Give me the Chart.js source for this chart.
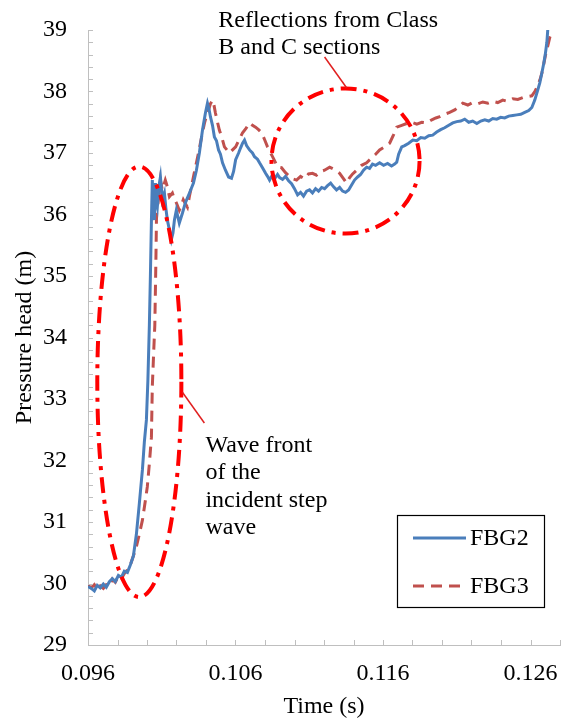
<!DOCTYPE html>
<html>
<head>
<meta charset="utf-8">
<script src="https://cdn.jsdelivr.net/npm/chart.js@4/dist/chart.umd.min.js"></script>
<style>
  html, body { margin: 0; padding: 0; background: #ffffff; }
  #wrap { width: 561px; height: 719px; }
</style>
</head>
<body>
<div id="wrap"><canvas id="c" width="561" height="719"></canvas></div>
<script>
// ---------- DATA ----------
const seriesNames = ['FBG2', 'FBG3'];

const fbg2Time = [
  0.0960, 0.09622, 0.09643, 0.09663, 0.09683, 0.09704, 0.09724, 0.09745, 0.09765, 0.09785,
  0.09806, 0.09826, 0.09846, 0.09867, 0.09887, 0.09908, 0.09928, 0.09948, 0.09969, 0.09982,
  0.09996, 0.10006, 0.10016, 0.10023, 0.1003, 0.10036, 0.10043, 0.1005, 0.10057, 0.10063,
  0.1007, 0.1008, 0.10091, 0.10104, 0.10118, 0.10128, 0.10138, 0.10152, 0.10165, 0.10176,
  0.10186, 0.10199, 0.10219, 0.1024, 0.1026, 0.10288, 0.10315, 0.10335, 0.10355, 0.10376,
  0.10396, 0.1041, 0.1042, 0.1043, 0.10444, 0.10457, 0.10471, 0.10485, 0.10498, 0.10512,
  0.10532, 0.10553, 0.10573, 0.10587, 0.10601, 0.10621, 0.10634, 0.10648, 0.10661, 0.10675,
  0.10695, 0.10715, 0.10729, 0.10749, 0.10763, 0.10783, 0.10804, 0.10817, 0.10831, 0.10845,
  0.10865, 0.10885, 0.10899, 0.10919, 0.10939, 0.1096, 0.1098, 0.1100, 0.11021, 0.11041,
  0.11061, 0.11082, 0.11102, 0.11122, 0.11143, 0.11163, 0.11184, 0.11204, 0.11224, 0.11245,
  0.11265, 0.11285, 0.11306, 0.11326, 0.11346, 0.11367, 0.11387, 0.11407, 0.11428, 0.11448,
  0.11468, 0.11489, 0.11509, 0.11529, 0.1155, 0.11577, 0.11604, 0.11631, 0.11658, 0.11679,
  0.11693, 0.11706, 0.11727, 0.11747, 0.11774, 0.11802, 0.11829, 0.11856, 0.11883, 0.1191,
  0.11937, 0.11964, 0.11991, 0.12018, 0.12046, 0.12073, 0.121, 0.12127, 0.12154, 0.12181,
  0.12208, 0.12236, 0.12263, 0.1229, 0.12317, 0.12344, 0.12371, 0.12398, 0.12425, 0.12452,
  0.1248, 0.12507, 0.12534, 0.12561, 0.12588, 0.12609, 0.12629, 0.1265, 0.12663, 0.12677,
  0.1269, 0.127, 0.12711, 0.12717
];
const fbg2Head = [
  29.95, 29.92, 29.88, 29.97, 29.93, 29.99, 29.94, 30.03, 30.08, 30.03,
  30.13, 30.10, 30.20, 30.18, 30.30, 30.45, 30.80, 31.30, 31.85, 32.30,
  32.66, 33.30, 34.20, 35.00, 35.90, 36.56, 36.10, 35.91, 36.51, 36.20,
  36.12, 36.45, 36.61, 36.24, 36.35, 36.10, 35.91, 35.75, 35.59, 35.70,
  35.91, 36.07, 35.86, 36.02, 36.19, 36.35, 36.51, 36.72, 37.00, 37.37,
  37.65, 37.81, 37.72, 37.59, 37.45, 37.26, 37.20, 37.05, 36.98, 36.84,
  36.72, 36.61, 36.59, 36.70, 36.89, 37.00, 37.08, 37.16, 37.21, 37.12,
  37.05, 37.00, 36.94, 36.90, 36.84, 36.76, 36.67, 36.62, 36.56, 36.62,
  36.58, 36.65, 36.60, 36.57, 36.62, 36.55, 36.50, 36.42, 36.32, 36.36,
  36.30, 36.38, 36.40, 36.35, 36.42, 36.38, 36.44, 36.42, 36.47, 36.51,
  36.45, 36.40, 36.44, 36.38, 36.36, 36.40, 36.48, 36.56, 36.61, 36.65,
  36.72, 36.77, 36.75, 36.82, 36.80, 36.84, 36.80, 36.83, 36.79, 36.82,
  36.85, 36.98, 37.10, 37.12, 37.16, 37.21, 37.20, 37.25, 37.24, 37.28,
  37.29, 37.34, 37.38, 37.41, 37.45, 37.49, 37.51, 37.52, 37.55, 37.50,
  37.52, 37.48, 37.52, 37.54, 37.52, 37.56, 37.55, 37.58, 37.57, 37.60,
  37.61, 37.62, 37.63, 37.66, 37.69, 37.74, 37.86, 38.03, 38.14, 38.30,
  38.46, 38.60, 38.80, 39.00
];

const fbg3Time = [
  0.0960, 0.09622, 0.09643, 0.09663, 0.09683, 0.09704, 0.09724, 0.09745, 0.09765, 0.09785,
  0.09806, 0.09826, 0.09846, 0.09867, 0.09887, 0.09908, 0.09928, 0.09948, 0.09969, 0.09989,
  0.10002, 0.10016, 0.1003, 0.10036, 0.10046, 0.10053, 0.1006, 0.10064, 0.1007, 0.1008,
  0.10091, 0.10104, 0.10124, 0.10138, 0.10152, 0.10172, 0.10186, 0.10199, 0.10219, 0.10233,
  0.10246, 0.1026, 0.10274, 0.10288, 0.10301, 0.10318, 0.10335, 0.10349, 0.10362, 0.10376,
  0.1039, 0.10403, 0.10417, 0.1043, 0.10444, 0.10454, 0.10464, 0.10478, 0.10491, 0.10508,
  0.10525, 0.10542, 0.10559, 0.1058, 0.10601, 0.10621, 0.10648, 0.10671, 0.10695, 0.10715,
  0.10736, 0.10756, 0.10777, 0.10797, 0.10817, 0.10834, 0.10851, 0.10868, 0.10885, 0.10912,
  0.10939, 0.10966, 0.10987, 0.11014, 0.11041, 0.11068, 0.11095, 0.11122, 0.11149, 0.11177,
  0.11204, 0.11238, 0.11272, 0.11306, 0.11333, 0.11353, 0.11374, 0.11394, 0.11421, 0.11455,
  0.11489, 0.11523, 0.1155, 0.11577, 0.11611, 0.11645, 0.11672, 0.11693, 0.11727, 0.11761,
  0.11795, 0.11829, 0.11863, 0.11897, 0.11931, 0.11958, 0.11985, 0.12018, 0.12052, 0.12086,
  0.12114, 0.12141, 0.12175, 0.12208, 0.12243, 0.12277, 0.12311, 0.12344, 0.12378, 0.12412,
  0.12446, 0.1248, 0.12514, 0.12548, 0.12582, 0.12609, 0.1263, 0.1265, 0.12664, 0.12677,
  0.1269, 0.12704, 0.12718, 0.12732, 0.12746
];
const fbg3Head = [
  29.97, 29.93, 29.98, 29.90, 29.96, 29.92, 29.98, 29.95, 30.07, 30.02,
  30.12, 30.08, 30.16, 30.22, 30.30, 30.45, 30.60, 30.80, 31.03, 31.35,
  31.57, 31.95, 32.38, 33.20, 33.80, 34.20, 35.20, 35.90, 36.40, 36.30,
  36.56, 36.40, 36.56, 36.45, 36.29, 36.35, 36.25, 36.19, 36.07, 36.15,
  36.24, 36.18, 36.12, 36.30, 36.45, 36.65, 36.84, 37.00, 37.16, 37.33,
  37.49, 37.60, 37.70, 37.80, 37.86, 37.78, 37.65, 37.50, 37.37, 37.25,
  37.10, 37.05, 37.00, 37.05, 37.10, 37.20, 37.33, 37.40, 37.49, 37.45,
  37.42, 37.38, 37.33, 37.22, 37.10, 37.02, 36.94, 36.86, 36.77, 36.76,
  36.68, 36.62, 36.58, 36.56, 36.62, 36.58, 36.66, 36.67, 36.64, 36.70,
  36.72, 36.77, 36.73, 36.67, 36.58, 36.51, 36.60, 36.66, 36.72, 36.80,
  36.84, 36.92, 36.98, 37.05, 37.10, 37.16, 37.30, 37.42, 37.45, 37.48,
  37.50, 37.47, 37.50, 37.49, 37.54, 37.57, 37.59, 37.63, 37.66, 37.70,
  37.75, 37.81, 37.78, 37.82, 37.80, 37.83, 37.81, 37.84, 37.82, 37.86,
  37.84, 37.88, 37.87, 37.90, 37.92, 37.93, 38.00, 38.10, 38.19, 38.30,
  38.45, 38.62, 38.75, 38.89, 38.97
];

const xTickLabels = ['0.096', '0.106', '0.116', '0.126'];
const yTickLabels = ['29', '30', '31', '32', '33', '34', '35', '36', '37', '38', '39'];
const xAxisTitle = 'Time (s)';
const yAxisTitle = 'Pressure head (m)';

const noteReflection = ['Reflections from Class', 'B and C sections'];
const noteWave = ['Wave front', 'of the', 'incident step', 'wave'];

// ---------- STYLE ----------
const SERIF = "'Liberation Serif', 'Times New Roman', serif";
const AXIS_GREY = '#bfbfbf';
const RED = '#ff0000';

function pts(xs, ys) { return xs.map((x, i) => ({ x: x, y: ys[i] })); }

// Annotation shapes, in data units of the chart's own axes
const annotationShapes = {
  reflectionEllipse: { cx: 0.11346, cy: 36.87, rx: 0.00502, ry: 1.18 },
  waveEllipse: { cx: 0.09948, cy: 33.28, rx: 0.00285, ry: 3.50 },
  reflectionLeader: [[0.11204, 38.56], [0.11353, 38.06]],
  waveLeader: [[0.10240, 33.11], [0.10389, 32.61]],
  reflectionText: { x: 0.10483, y: 39.05 },
  waveText: { x: 0.10396, y: 32.14 }
};

const inwardTicks = {
  id: 'inwardTicks',
  afterDraw(chart) {
    const ctx = chart.ctx;
    const xs = chart.scales.x, ys = chart.scales.y;
    const a = chart.chartArea;
    ctx.save();
    ctx.strokeStyle = AXIS_GREY;
    ctx.lineWidth = 1;
    ctx.beginPath();
    xs.ticks.forEach(t => {
      const px = Math.round(xs.getPixelForValue(t.value)) + 0.5;
      ctx.moveTo(px, a.bottom);
      ctx.lineTo(px, a.bottom - 5);
    });
    ys.ticks.forEach(t => {
      const py = Math.round(ys.getPixelForValue(t.value)) + 0.5;
      ctx.moveTo(a.left, py);
      ctx.lineTo(a.left + 5, py);
    });
    ctx.stroke();
    ctx.restore();
  }
};

const annotations = {
  id: 'annotations',
  afterDraw(chart) {
    const ctx = chart.ctx;
    const xs = chart.scales.x, ys = chart.scales.y;
    const X = v => xs.getPixelForValue(v), Y = v => ys.getPixelForValue(v);
    const s = annotationShapes;
    ctx.save();
    // dash-dot ellipses
    ctx.strokeStyle = RED;
    ctx.lineWidth = 4;
    ctx.setLineDash([16, 7, 4, 7]);
    [s.reflectionEllipse, s.waveEllipse].forEach(e => {
      const cx = X(e.cx), cy = Y(e.cy);
      const rx = Math.abs(X(e.cx + e.rx) - cx), ry = Math.abs(Y(e.cy + e.ry) - cy);
      ctx.beginPath();
      ctx.ellipse(cx, cy, rx, ry, 0, 0, Math.PI * 2);
      ctx.stroke();
    });
    // leader lines
    ctx.setLineDash([]);
    ctx.lineWidth = 1.5;
    ctx.strokeStyle = '#e02020';
    [s.reflectionLeader, s.waveLeader].forEach(l => {
      ctx.beginPath();
      ctx.moveTo(X(l[0][0]), Y(l[0][1]));
      ctx.lineTo(X(l[1][0]), Y(l[1][1]));
      ctx.stroke();
    });
    // notes
    ctx.fillStyle = '#000';
    ctx.font = '24px ' + SERIF;
    ctx.textAlign = 'left';
    ctx.textBaseline = 'alphabetic';
    noteReflection.forEach((t, i) => ctx.fillText(t, X(s.reflectionText.x), Y(s.reflectionText.y) + i * 27));
    noteWave.forEach((t, i) => ctx.fillText(t, X(s.waveText.x), Y(s.waveText.y) + i * 27.5));
    ctx.restore();
  }
};

const boxLegend = {
  id: 'boxLegend',
  afterDraw(chart) {
    const ctx = chart.ctx;
    ctx.save();
    ctx.fillStyle = '#fff';
    ctx.fillRect(397, 515, 148, 93);
    ctx.strokeStyle = '#000';
    ctx.lineWidth = 1.2;
    ctx.strokeRect(397.5, 515.5, 147, 92);
    chart.data.datasets.forEach((ds, i) => {
      const y = 538 + i * 48;
      ctx.strokeStyle = ds.borderColor;
      ctx.lineWidth = ds.borderWidth;
      ctx.setLineDash(ds.borderDash || []);
      ctx.beginPath();
      ctx.moveTo(413, y);
      ctx.lineTo(466, y);
      ctx.stroke();
      ctx.setLineDash([]);
      ctx.fillStyle = '#000';
      ctx.font = '24px ' + SERIF;
      ctx.textBaseline = 'middle';
      ctx.textAlign = 'left';
      ctx.fillText(ds.label, 470, y + 1);
    });
    ctx.restore();
  }
};

const whiteBg = {
  id: 'whiteBg',
  beforeDraw(chart) {
    const ctx = chart.ctx;
    ctx.save();
    ctx.fillStyle = '#fff';
    ctx.fillRect(0, 0, chart.width, chart.height);
    ctx.restore();
  }
};

const xLabelSet = xTickLabels.map(Number);
const yLabelSet = yTickLabels.map(Number);

new Chart(document.getElementById('c'), {
  type: 'line',
  data: {
    datasets: [
      {
        label: seriesNames[0],
        data: pts(fbg2Time, fbg2Head),
        borderColor: '#4a7ebb',
        borderWidth: 3,
        pointRadius: 0,
        tension: 0,
        fill: false
      },
      {
        label: seriesNames[1],
        data: pts(fbg3Time, fbg3Head),
        borderColor: '#c0504d',
        borderWidth: 3,
        borderDash: [11, 7],
        pointRadius: 0,
        tension: 0,
        fill: false
      }
    ]
  },
  options: {
    responsive: false,
    animation: false,
    devicePixelRatio: 1,
    layout: { padding: { left: 0, right: 1, top: 30, bottom: 0 } },
    plugins: { legend: { display: false }, tooltip: { enabled: false } },
    scales: {
      x: {
        type: 'linear',
        min: 0.096,
        max: 0.128,
        afterFit(scale) { scale.height = 74; },
        grid: { display: false, drawTicks: true, tickLength: 14 },
        border: { display: true, color: AXIS_GREY, width: 1 },
        ticks: {
          stepSize: 0.002,
          autoSkip: false,
          maxRotation: 0,
          padding: 0,
          color: '#000',
          font: { family: SERIF, size: 24 },
          callback(v) {
            const i = xLabelSet.findIndex(l => Math.abs(l - v) < 1e-6);
            return i >= 0 ? xTickLabels[i] : '';
          }
        },
        title: {
          display: true,
          text: xAxisTitle,
          color: '#000',
          font: { family: SERIF, size: 24, lineHeight: 1 },
          padding: { top: 0, bottom: 0 }
        }
      },
      y: {
        type: 'linear',
        min: 29,
        max: 39,
        afterFit(scale) { scale.width = 88; },
        grid: { display: false, drawTicks: true, tickLength: 21 },
        border: { display: true, color: AXIS_GREY, width: 1 },
        ticks: {
          stepSize: 0.2,
          autoSkip: false,
          padding: 0,
          color: '#000',
          font: { family: SERIF, size: 24 },
          callback(v) {
            const i = yLabelSet.findIndex(l => Math.abs(l - v) < 1e-6);
            return i >= 0 ? yTickLabels[i] : '';
          }
        },
        title: {
          display: true,
          text: yAxisTitle,
          color: '#000',
          font: { family: SERIF, size: 24, lineHeight: 1 },
          padding: { top: 13, bottom: 0 }
        }
      }
    }
  },
  plugins: [whiteBg, inwardTicks, annotations, boxLegend]
});
</script>
</body>
</html>
